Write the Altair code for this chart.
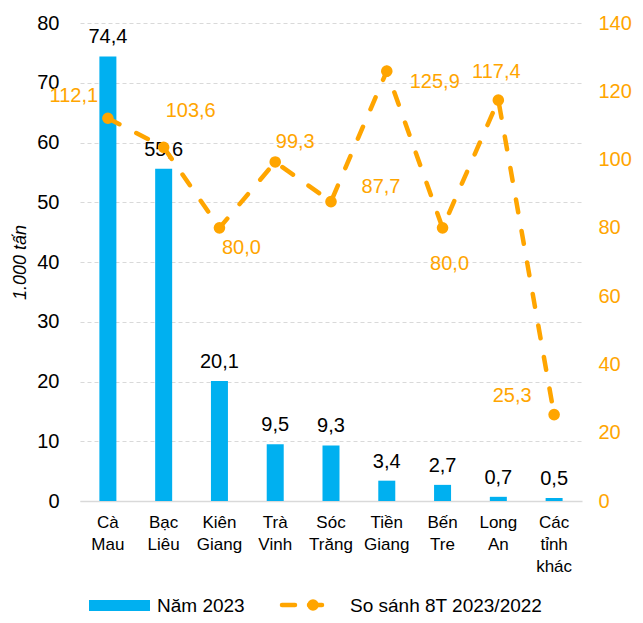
import altair as alt
import pandas as pd

categories = ["Cà Mau", "Bạc Liêu", "Kiên Giang", "Trà Vinh", "Sóc Trăng",
              "Tiền Giang", "Bến Tre", "Long An", "Các tỉnh khác"]
volume_2023 = [74.4, 55.6, 20.1, 9.5, 9.3, 3.4, 2.7, 0.7, 0.5]
ratio_8t = [112.1, 103.6, 80.0, 99.3, 87.7, 125.9, 80.0, 117.4, 25.3]
left_ticks = [0, 10, 20, 30, 40, 50, 60, 70, 80]
right_ticks = [0, 20, 40, 60, 80, 100, 120, 140]

# label placement (pixels) for the line's data labels
label_offsets = [(-34, -22), (27, -36), (22, 20), (20, -20), (50, -15),
                 (48, 11), (7, 36), (-2, -28), (-42, -19)]

BLUE = "#00B0F0"
ORANGE = "#FFA500"
FONT = "Liberation Sans"

df = pd.DataFrame({"cat": categories, "vol": volume_2023, "ratio": ratio_8t,
                   "order": list(range(len(categories)))})
df["vol_label"] = [f"{v:.1f}".replace(".", ",") for v in volume_2023]
df["ratio_label"] = [f"{v:.1f}".replace(".", ",") for v in ratio_8t]

x_enc = alt.X("cat:N", sort=categories,
              scale=alt.Scale(paddingInner=0, paddingOuter=0),
              axis=alt.Axis(title=None, labelAngle=0, labelExpr="split(datum.label, ' ')",
                            labelFontSize=17, labelLineHeight=22, labelPadding=13,
                            labelColor="#000000", ticks=False, domainColor="#d9d9d9",
                            domainWidth=1.5, labelBaseline="top"))

y_left = alt.Y("vol:Q", scale=alt.Scale(domain=[0, 80]),
               axis=alt.Axis(values=left_ticks, title="1.000 tấn", titleFontStyle="italic",
                             titleFontWeight="normal", titleFontSize=18, titleColor="#000000",
                             titlePadding=7, domain=False, ticks=False,
                             gridDash=[4, 3], gridColor="#d9d9d9", labelFontSize=20,
                             labelColor="#000000", labelPadding=21))

base = alt.Chart(df)

bars = base.mark_bar(size=17, color=BLUE).encode(x=x_enc, y=y_left)
bar_text = base.mark_text(baseline="bottom", dy=-9, fontSize=20, color="#000000", font=FONT).encode(
    x=alt.X("cat:N", sort=categories), y=alt.Y("vol:Q"), text="vol_label:N")
bar_group = alt.layer(bars, bar_text)

y_right = alt.Y("ratio:Q", scale=alt.Scale(domain=[0, 140]),
                axis=alt.Axis(orient="right", values=right_ticks, grid=False, domain=False,
                              ticks=False, labelColor=ORANGE, labelFontSize=20,
                              labelPadding=16, title=None))

line = base.mark_line(color=ORANGE, strokeWidth=4.5, strokeDash=[13, 19], strokeCap="round").encode(
    x=alt.X("cat:N", sort=categories), y=y_right)
points = base.mark_point(filled=True, color=ORANGE, size=135, opacity=1).encode(
    x=alt.X("cat:N", sort=categories), y=alt.Y("ratio:Q"))

line_labels = []
for i, (dx, dy) in enumerate(label_offsets):
    line_labels.append(
        base.transform_filter(alt.datum.order == i)
        .mark_text(dx=dx, dy=dy, fontSize=20, color=ORANGE, font=FONT)
        .encode(x=alt.X("cat:N", sort=categories), y=alt.Y("ratio:Q"), text="ratio_label:N"))

line_group = alt.layer(line, points, *line_labels)

leg_df = pd.DataFrame({"a": [0]})
leg = alt.Chart(leg_df)
leg_rect = leg.mark_rect(color=BLUE).encode(
    x=alt.value(9), x2=alt.value(70), y=alt.value(577), y2=alt.value(588))
leg_text1 = leg.mark_text(align="left", baseline="middle", fontSize=19, color="#000000", font=FONT).encode(
    x=alt.value(77), y=alt.value(583), text=alt.value("Năm 2023"))
leg_line = leg.mark_rule(color=ORANGE, strokeWidth=4.5, strokeDash=[13, 14], strokeCap="round").encode(
    x=alt.value(202), x2=alt.value(246), y=alt.value(582))
leg_pt = leg.mark_point(filled=True, color=ORANGE, size=135, opacity=1).encode(
    x=alt.value(233), y=alt.value(582))
leg_text2 = leg.mark_text(align="left", baseline="middle", fontSize=19, color="#000000", font=FONT).encode(
    x=alt.value(270), y=alt.value(583), text=alt.value("So sánh 8T 2023/2022"))

chart = alt.layer(bar_group, line_group, leg_rect, leg_text1, leg_line, leg_pt, leg_text2).resolve_scale(
    y="independent"
).properties(
    width=502, height=478,
    autosize=alt.AutoSizeParams(type="none"),
    padding={"left": 72, "top": 15, "right": 53, "bottom": 114},
).configure(font=FONT).configure_view(stroke=None)

chart.save("out.html", embed_options={"renderer": "svg", "actions": False})
